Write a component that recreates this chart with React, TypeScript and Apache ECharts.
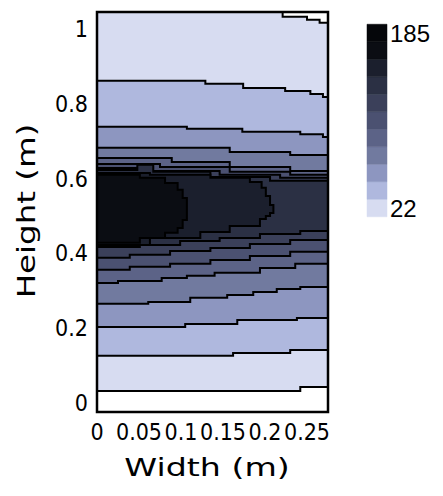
import React, { useEffect, useRef } from 'react';
import * as echarts from 'echarts';

// Axis extents (m)
const X_MAX = 0.275;
const Y_MIN = -0.024;
const Y_MAX = 1.045;

const xTickStep = 0.05;
const yTickStep = 0.2;

// Contour levels (colour bar runs from the first to the last)
const contourLevels = [22, 38.3, 54.6, 70.9, 87.2, 103.5, 119.8, 136.1, 152.4, 168.7, 185];

type Step = [number, number]; // [x where the step starts, height]

// Upper edges of the regions at or above levels 1..8
const upperEdges: Step[][] = [
  [[0, 1.045], [0.221, 1.032], [0.25, 1.024], [0.265, 1.016]],
  [[0, 0.861], [0.129, 0.853], [0.174, 0.842], [0.224, 0.834], [0.254, 0.826], [0.269, 0.818]],
  [[0, 0.738], [0.107, 0.733], [0.173, 0.725], [0.242, 0.718], [0.269, 0.711]],
  [[0, 0.682], [0.158, 0.671], [0.23, 0.663]],
  [[0, 0.655], [0.089, 0.644], [0.158, 0.631], [0.23, 0.62]],
  [[0, 0.639], [0.075, 0.631], [0.158, 0.618], [0.23, 0.61]],
  [[0, 0.628], [0.063, 0.62], [0.146, 0.61], [0.218, 0.602]],
  [[0, 0.623], [0.048, 0.637], [0.067, 0.618], [0.135, 0.604], [0.206, 0.594]],
];

// Lower edges of the same regions
const lowerEdges: Step[][] = [
  [[0, 0.032], [0.242, 0.043]],
  [[0, 0.126], [0.162, 0.134], [0.23, 0.142]],
  [[0, 0.203], [0.105, 0.211], [0.167, 0.222], [0.238, 0.227]],
  [[0, 0.265], [0.061, 0.27], [0.111, 0.281], [0.155, 0.289], [0.186, 0.297], [0.214, 0.305], [0.242, 0.31]],
  [[0, 0.321], [0.025, 0.326], [0.077, 0.334], [0.107, 0.34], [0.14, 0.348], [0.194, 0.361], [0.236, 0.372]],
  [[0, 0.356], [0.039, 0.364], [0.087, 0.372], [0.135, 0.382], [0.182, 0.393], [0.23, 0.404]],
  [[0, 0.388], [0.039, 0.396], [0.087, 0.406], [0.135, 0.414], [0.182, 0.425], [0.23, 0.436]],
  [[0, 0.417], [0.051, 0.422], [0.099, 0.433], [0.146, 0.441], [0.194, 0.452], [0.242, 0.46]],
];

// Closed inner contours (levels 9 and 10), open towards the left wall
const core9Top: Step[] = [[0, 0.615], [0.063, 0.61], [0.135, 0.602], [0.182, 0.591], [0.196, 0.575], [0.201, 0.553], [0.206, 0.529]];
const core9Bottom: Step[] = [[0, 0.422], [0.063, 0.441], [0.123, 0.457], [0.158, 0.473], [0.194, 0.492], [0.201, 0.5], [0.206, 0.508]];
const core9Tip = 0.21;

const core10Top: Step[] = [[0, 0.61], [0.051, 0.602], [0.081, 0.588], [0.096, 0.57], [0.102, 0.548]];
const core10Bottom: Step[] = [[0, 0.428], [0.051, 0.441], [0.081, 0.455], [0.096, 0.468], [0.102, 0.489]];
const core10Tip = 0.107;

const levelColors = [
  '#d7dcf1', '#afb8de', '#8d96c0', '#717a9f', '#5c6387', '#4b5171',
  '#3b405a', '#2b3044', '#1b1f2d', '#0b0d13', '#05060a',
];

const TICK_FONT = "'Liberation Sans Narrow', 'Arial Narrow', 'DejaVu Sans Condensed', 'Liberation Sans', sans-serif";
const TITLE_FONT = "'DejaVu Sans', 'Liberation Sans', sans-serif";

interface Region { level: number; top: Step[]; bottom: Step[]; end: number }

const regions: Region[] = upperEdges.map((top, i) => ({ level: i, top, bottom: lowerEdges[i], end: X_MAX }));
regions.push({ level: 8, top: core9Top, bottom: core9Bottom, end: core9Tip });
regions.push({ level: 9, top: core10Top, bottom: core10Bottom, end: core10Tip });

// Turn step lists into staircase vertices
const stairs = (steps: Step[], end: number): number[][] => {
  const pts: number[][] = [];
  steps.forEach(([x, y], i) => {
    const next = i + 1 < steps.length ? steps[i + 1][0] : end;
    pts.push([x, y], [next, y]);
  });
  return pts;
};

export default function App() {
  const ref = useRef<HTMLDivElement>(null);

  useEffect(() => {
    const chart = echarts.init(ref.current!, null, { renderer: 'svg' });
    const half = (contourLevels[1] - contourLevels[0]) / 2;

    const option: any = {
      animation: false,
      backgroundColor: '#ffffff',
      grid: [
        { left: 97, top: 12, width: 231, height: 400 },
        { left: 97, top: 29, width: 231, height: 374 },
        { left: 367, top: 33, width: 20, height: 175 },
      ],
      xAxis: [
        {
          gridIndex: 0, type: 'value', min: 0, max: X_MAX, interval: xTickStep,
          axisLine: { show: false }, axisTick: { show: false }, splitLine: { show: false },
          axisLabel: { showMaxLabel: false, margin: 8, fontSize: 23, color: '#000', fontFamily: TICK_FONT },
        },
        { gridIndex: 1, type: 'value', min: 0, max: 1, show: false },
        { gridIndex: 2, type: 'value', min: 0, max: 1, show: false },
      ],
      yAxis: [
        { gridIndex: 0, type: 'value', min: Y_MIN, max: Y_MAX, show: false },
        {
          gridIndex: 1, type: 'value', min: 0, max: 1, interval: yTickStep,
          axisLine: { show: false }, axisTick: { show: false }, splitLine: { show: false },
          axisLabel: { margin: 9, fontSize: 23, color: '#000', fontFamily: TICK_FONT },
        },
        {
          gridIndex: 2, type: 'value', position: 'right',
          min: contourLevels[0], max: contourLevels[contourLevels.length - 1],
          interval: contourLevels[contourLevels.length - 1] - contourLevels[0],
          axisLine: { show: false }, axisTick: { show: false }, splitLine: { show: false },
          axisLabel: { margin: 3, fontSize: 24, color: '#000', fontFamily: "'Liberation Sans', sans-serif" },
        },
      ],
      series: [
        {
          type: 'custom',
          xAxisIndex: 0,
          yAxisIndex: 0,
          clip: true,
          z: 2,
          data: regions.map((r) => [r.end, r.top[0][1]]),
          renderItem: (params: any, api: any) => {
            const r = regions[params.dataIndex];
            const outline = stairs(r.top, r.end).concat(stairs(r.bottom, r.end).reverse());
            return {
              type: 'polygon',
              shape: { points: outline.map((p) => api.coord(p)) },
              style: { fill: levelColors[r.level], stroke: '#000', lineWidth: 2 },
            };
          },
        },
        {
          type: 'custom',
          xAxisIndex: 0,
          yAxisIndex: 0,
          z: 5,
          data: [[0, Y_MIN]],
          renderItem: (_params: any, api: any) => {
            const tl = api.coord([0, Y_MAX]);
            const br = api.coord([X_MAX, Y_MIN]);
            return {
              type: 'rect',
              shape: { x: tl[0], y: tl[1], width: br[0] - tl[0], height: br[1] - tl[1] },
              style: { fill: 'none', stroke: '#000', lineWidth: 2.5 },
            };
          },
        },
        {
          type: 'custom',
          xAxisIndex: 2,
          yAxisIndex: 2,
          z: 2,
          data: contourLevels.map((v) => [0, v]),
          renderItem: (params: any, api: any) => {
            const v = contourLevels[params.dataIndex];
            const a = api.coord([0, v + half]);
            const b = api.coord([1, v - half]);
            const c = levelColors[params.dataIndex];
            return {
              type: 'rect',
              shape: { x: a[0], y: a[1], width: b[0] - a[0], height: b[1] - a[1] },
              style: { fill: c, stroke: c, lineWidth: 0.5 },
            };
          },
        },
      ],
      graphic: [
        {
          type: 'text', x: 207, y: 468, scaleX: 1.33,
          style: { text: 'Width (m)', fontSize: 25, fontFamily: TITLE_FONT, fill: '#000', align: 'center', verticalAlign: 'middle' },
        },
        {
          type: 'text', x: 26, y: 211, rotation: Math.PI / 2, scaleX: 1.3,
          style: { text: 'Height (m)', fontSize: 25, fontFamily: TITLE_FONT, fill: '#000', align: 'center', verticalAlign: 'middle' },
        },
      ],
    };

    chart.setOption(option);
    return () => chart.dispose();
  }, []);

  return <div ref={ref} style={{ position: 'fixed', left: 0, top: 0, width: 443, height: 496 }} />;
}
